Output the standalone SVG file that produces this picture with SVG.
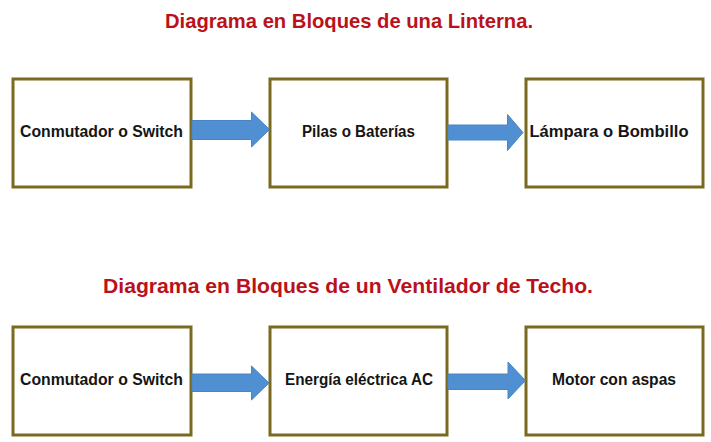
<svg xmlns="http://www.w3.org/2000/svg" width="711" height="442" viewBox="0 0 711 442">
  <style>
    .title { font-family: "Liberation Sans", Arial, sans-serif; font-weight: bold; font-size: 20.5px; fill: #bb111a; }
    .box { fill: #ffffff; stroke: #7a6a1f; stroke-width: 3; }
    .label { font-family: "Liberation Sans", Arial, sans-serif; font-weight: bold; font-size: 16px; fill: #151515; }
    .arrow { fill: #4f8fd2; stroke: #4a85c2; stroke-width: 1; }
  </style>
  <rect width="711" height="442" fill="#ffffff"/>

  <!-- Flashlight block diagram -->
  <text class="title" x="165" y="27.5" textLength="368" lengthAdjust="spacingAndGlyphs">Diagrama en Bloques de una Linterna.</text>

  <g id="linterna-switch">
    <rect class="box" x="13" y="79" width="178" height="108"/>
    <text class="label" x="20" y="137" textLength="163" lengthAdjust="spacingAndGlyphs">Conmutador o Switch</text>
  </g>
  <g id="linterna-pilas">
    <rect class="box" x="270" y="79" width="177" height="108"/>
    <text class="label" x="302" y="137" textLength="113" lengthAdjust="spacingAndGlyphs">Pilas o Baterías</text>
  </g>
  <g id="linterna-lampara">
    <rect class="box" x="526" y="79" width="177" height="108"/>
    <text class="label" x="529.5" y="137" textLength="159" lengthAdjust="spacingAndGlyphs">Lámpara o Bombillo</text>
  </g>

  <!-- Ceiling fan block diagram -->
  <text class="title" x="103" y="293" textLength="490" lengthAdjust="spacingAndGlyphs">Diagrama en Bloques de un Ventilador de Techo.</text>

  <g id="ventilador-switch">
    <rect class="box" x="13" y="327" width="178" height="108"/>
    <text class="label" x="20" y="385" textLength="163" lengthAdjust="spacingAndGlyphs">Conmutador o Switch</text>
  </g>
  <g id="ventilador-energia">
    <rect class="box" x="270" y="327" width="177" height="108"/>
    <text class="label" x="285" y="385" textLength="148" lengthAdjust="spacingAndGlyphs">Energía eléctrica AC</text>
  </g>
  <g id="ventilador-motor">
    <rect class="box" x="526" y="327" width="177" height="108"/>
    <text class="label" x="552" y="385" textLength="124" lengthAdjust="spacingAndGlyphs">Motor con aspas</text>
  </g>

  <!-- Block arrows -->
  <g id="connectors">
    <polygon class="arrow" points="192,120.5 251.5,120.5 251.5,112 269.5,129.5 251.5,147 251.5,139.5 192,139.5"/>
    <polygon class="arrow" points="448,125 507.5,125 507.5,114.5 523,132.5 507.5,150.5 507.5,140 448,140"/>
    <polygon class="arrow" points="192,374 251.5,374 251.5,366 269,383 251.5,400 251.5,391.5 192,391.5"/>
    <polygon class="arrow" points="448,374 508,374 508,362 525.5,380.5 508,399 508,389.5 448,389.5"/>
  </g>
</svg>
